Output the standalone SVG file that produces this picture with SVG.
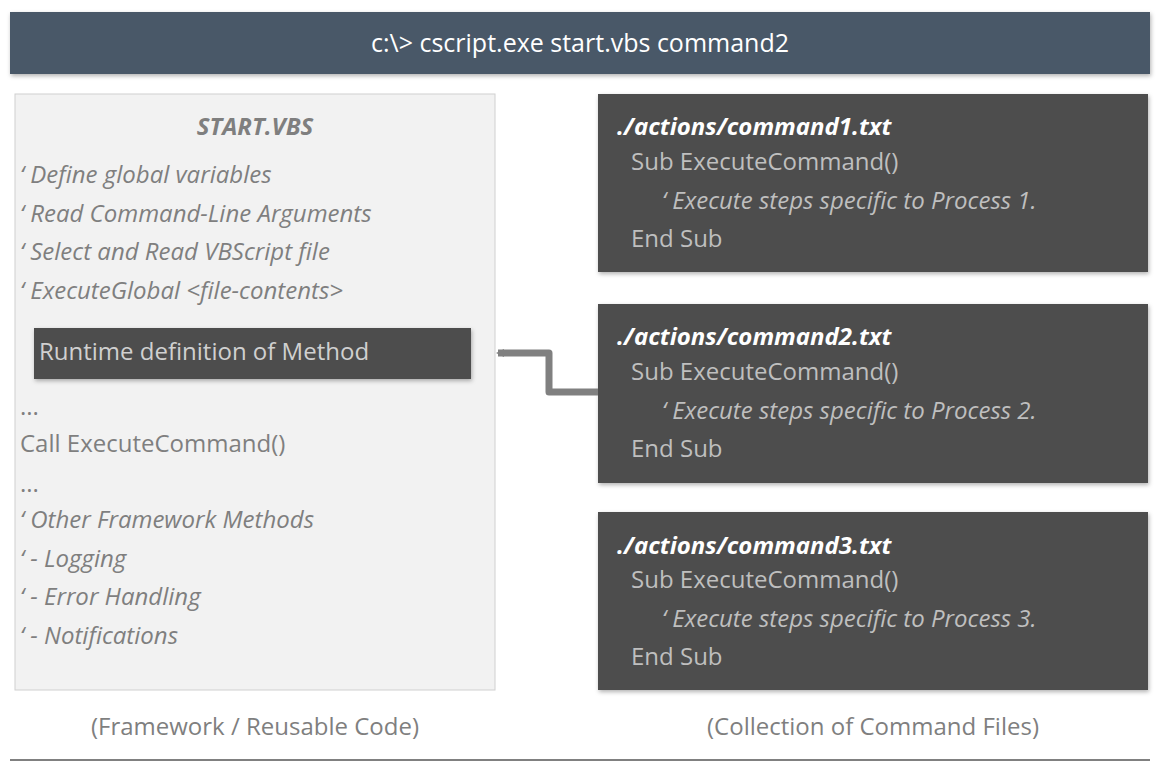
<svg xmlns="http://www.w3.org/2000/svg" width="1162" height="770" viewBox="0 0 1162 770">
<style>
text{font-family:"Open Sans","Noto Sans",sans-serif;}
.l{font-size:24px;fill:#7f7f7f;}
.i{font-style:italic;}
.t{font-size:24px;font-weight:bold;font-style:italic;fill:#fff;}
.c{font-size:24px;fill:#bfbfbf;}
.dark{fill:#4d4d4d;}
</style>
<defs>
<filter id="sh" x="-5%" y="-5%" width="110%" height="120%"><feDropShadow dx="1" dy="2" stdDeviation="2" flood-opacity="0.3"/></filter>
<marker id="ah" markerWidth="8" markerHeight="8" refX="6" refY="4" orient="auto" markerUnits="userSpaceOnUse" viewBox="0 0 8 8"><path d="M0,0 L8,4 L0,8 z" fill="#808080"/></marker>
</defs>
<g id="header"><rect x="10" y="12" width="1140" height="62" fill="#4a5868" filter="url(#sh)"/>
<text x="580" y="52" text-anchor="middle" font-size="25" fill="#fff">c:\&gt; cscript.exe start.vbs command2</text></g>
<g id="startvbs">
<rect x="15" y="94" width="480" height="596" fill="#f2f2f2" stroke="#d0d0d0"/>
<text x="255" y="135" text-anchor="middle" class="l i" font-weight="bold">START.VBS</text>
<text x="20" y="183" class="l i">‘ Define global variables</text>
<text x="20" y="222" class="l i">‘ Read Command-Line Arguments</text>
<text x="20" y="260" class="l i">‘ Select and Read VBScript file</text>
<text x="20" y="299" class="l i">‘ ExecuteGlobal &lt;file-contents&gt;</text>
<text x="20" y="415" class="l">...</text>
<text x="20" y="452" class="l">Call ExecuteCommand()</text>
<text x="20" y="492" class="l">...</text>
<text x="20" y="528" class="l i">‘ Other Framework Methods</text>
<text x="20" y="567" class="l i">‘  - Logging</text>
<text x="20" y="605" class="l i">‘  - Error Handling</text>
<text x="20" y="644" class="l i">‘  - Notifications</text>
</g>
<g id="runtime"><rect x="34" y="328" width="437" height="51" class="dark" filter="url(#sh)"/>
<text x="39" y="360" font-size="24" fill="#d0d0d0">Runtime definition of Method</text></g>
<g id="cmd1"><rect x="598" y="94" width="550" height="178" class="dark" filter="url(#sh)"/>
<text x="617" y="135" class="t">./actions/command1.txt</text>
<text x="631" y="170" class="c">Sub ExecuteCommand()</text>
<text x="662" y="209" class="c i">‘ Execute steps specific to Process 1.</text>
<text x="631" y="247" class="c">End Sub</text></g>
<g id="cmd2"><rect x="598" y="304" width="550" height="179" class="dark" filter="url(#sh)"/>
<text x="617" y="345" class="t">./actions/command2.txt</text>
<text x="631" y="380" class="c">Sub ExecuteCommand()</text>
<text x="662" y="419" class="c i">‘ Execute steps specific to Process 2.</text>
<text x="631" y="457" class="c">End Sub</text></g>
<g id="cmd3"><rect x="598" y="512" width="550" height="178" class="dark" filter="url(#sh)"/>
<text x="617" y="554" class="t">./actions/command3.txt</text>
<text x="631" y="588" class="c">Sub ExecuteCommand()</text>
<text x="662" y="627" class="c i">‘ Execute steps specific to Process 3.</text>
<text x="631" y="665" class="c">End Sub</text></g>
<g id="connectors">
<path d="M598,392 H549 V353 H498" fill="none" stroke="#808080" stroke-width="7" stroke-linejoin="round" marker-end="url(#ah)"/>
</g>
<g id="captions">
<text x="255" y="735" text-anchor="middle" class="l">(Framework / Reusable Code)</text>
<text x="873" y="735" text-anchor="middle" class="l">(Collection of Command Files)</text>
<line x1="10" y1="760" x2="1150" y2="760" stroke="#808080" stroke-width="2"/>
</g>
</svg>
